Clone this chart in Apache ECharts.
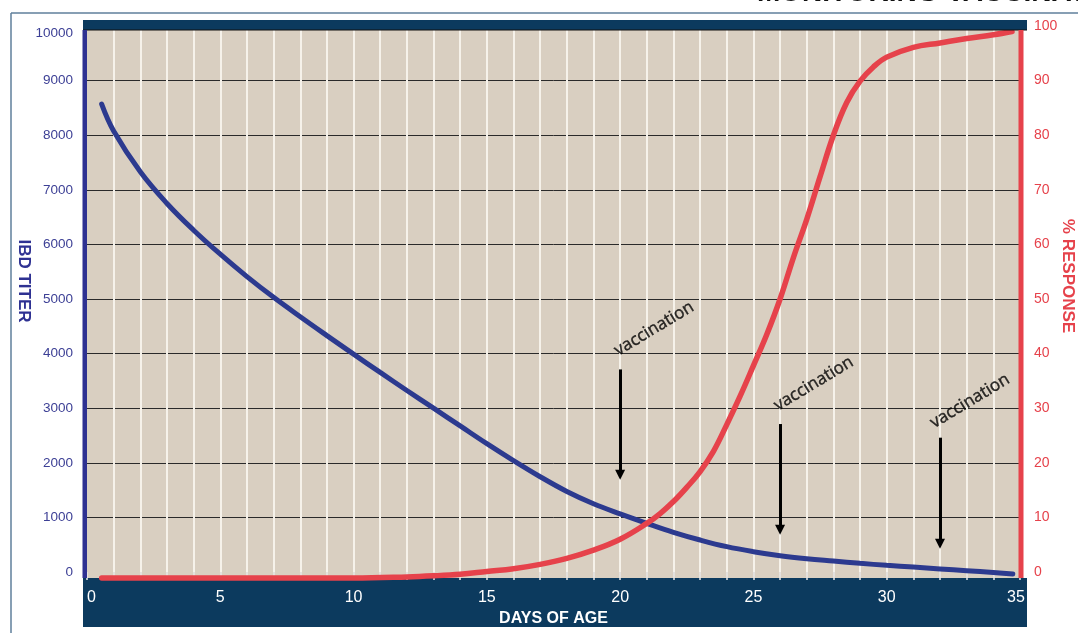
<!DOCTYPE html>
<html><head><meta charset="utf-8">
<script src="https://cdn.jsdelivr.net/npm/echarts@6/dist/echarts.min.js"></script>
<style>html,body{margin:0;padding:0;background:#fff;overflow:hidden}#c{width:1078px;height:633px}</style>
</head><body><div id="c"></div>
<script>
const titleText = 'MONITORING VACCINATION';
const xName = 'DAYS OF AGE';
const leftName = 'IBD TITER';
const rightName = '% RESPONSE';
const vaccinationText = 'vaccination';

// IBD titer curve (left axis)
const titerDays   = [0.55, 1, 2, 3, 4, 5, 6, 7, 8, 9, 10, 11, 12, 13, 14, 15, 16, 17, 18, 19, 20, 21, 22, 23, 24, 25, 26, 27, 28, 29, 30, 31, 32, 33, 34, 34.73];
const titerValues = [8569, 8077, 7330, 6750, 6260, 5820, 5410, 5030, 4675, 4330, 3990, 3655, 3325, 3000, 2675, 2350, 2040, 1745, 1475, 1250, 1065, 892, 727, 586, 464, 372, 299, 244, 201, 159, 122, 90, 57, 24, -10, -38];

// % response curve (right axis)
const responseDays   = [0.55, 5, 10, 12, 13, 14, 15, 16, 17, 18, 19, 20, 21, 21.5, 22, 22.5, 23, 23.5, 24, 24.5, 25, 25.5, 26, 26.5, 27, 27.5, 28, 28.5, 29, 29.5, 30, 31, 32, 33, 34, 34.7];
const responseValues = [-1.1, -1.1, -1.1, -0.9, -0.7, -0.4, 0.1, 0.6, 1.4, 2.5, 4.0, 6.0, 8.9, 10.7, 12.9, 15.5, 18.4, 22.1, 27.0, 32.2, 37.8, 43.5, 50.0, 57.6, 64.6, 72.4, 80.0, 86.0, 89.9, 92.5, 94.3, 96.1, 96.9, 97.7, 98.4, 99.0];

// vaccination annotations (left-axis units)
const vaccinationDays = [20, 26, 32];
const arrowFrom = [3710, 2710, 2460];
const arrowTo   = [1780, 773, 516];
const labelDays  = [20.0, 25.99, 31.85];
const labelTiter = [3900, 2893, 2575];

const FONT = "'Liberation Sans',Arial,sans-serif";
const NAVY = '#0c3a5e', TAN = '#d9cfc1', RED = '#e6424b', BLUE = '#2c3a8f';

const chart = echarts.init(document.getElementById('c'), null, {renderer: 'canvas'});
chart.setOption({
  animation: false,
  backgroundColor: '#ffffff',
  title: {
    text: titleText, left: 757, top: -21, padding: 0,
    textStyle: {fontFamily: FONT, fontSize: 28, fontWeight: 900, color: '#111'}
  },
  grid: {left: 87, right: 58, top: 26, bottom: 61, containLabel: false},
  xAxis: {
    type: 'value', min: 0, max: 35, interval: 1, offset: 6,
    axisLine: {show: false},
    axisTick: {show: true, length: 8, lineStyle: {color: '#e8e8e8', width: 1.5}},
    axisLabel: {
      color: '#ffffff', fontFamily: FONT, fontSize: 16, margin: 12,
      alignMinLabel: 'left',
      formatter: v => (v === 35 ? '{m|35}' : (v % 5 === 0 ? String(v) : '')),
      rich: {m: {color: '#ffffff', fontFamily: FONT, fontSize: 16, padding: [0, 8, 0, 0]}}
    },
    splitLine: {show: true, showMinLine: false, showMaxLine: false, lineStyle: {color: '#f6f2ea', width: 2}},
    name: xName, nameLocation: 'middle', nameGap: 25,
    nameTextStyle: {color: '#ffffff', fontFamily: FONT, fontSize: 16, fontWeight: 'bold'}
  },
  yAxis: [
    {
      type: 'value', min: 0, max: 10000, interval: 1000, position: 'left',
      axisLine: {show: false}, axisTick: {show: false},
      axisLabel: {color: '#3c3f95', fontFamily: FONT, fontSize: 13.5, margin: 14, verticalAlignMaxLabel: 'top',
        formatter: v => String(v)},
      splitLine: {show: true, showMinLine: false, showMaxLine: false, lineStyle: {color: '#2a2a2a', width: 1}}
    },
    {
      type: 'value', min: 0, max: 100, interval: 10, position: 'right',
      axisLine: {show: false}, axisTick: {show: false},
      axisLabel: {color: RED, fontFamily: FONT, fontSize: 14, margin: 14, formatter: v => String(v)},
      splitLine: {show: false}
    }
  ],
  graphic: [
    {type: 'rect', z: -100, silent: true, shape: {x: 87, y: 30, width: 933, height: 548}, style: {fill: TAN}},
    {type: 'rect', z: -50, silent: true, shape: {x: 83, y: 578, width: 944, height: 49}, style: {fill: NAVY}},
    {type: 'rect', z: 50, silent: true, shape: {x: 83, y: 20, width: 944, height: 10}, style: {fill: NAVY}},
    {type: 'line', z: 50, silent: true, shape: {x1: 83, y1: 30, x2: 1027, y2: 30}, style: {stroke: '#111', lineWidth: 1}},
    {type: 'rect', z: 50, silent: true, shape: {x: 82.5, y: 30, width: 4.5, height: 548}, style: {fill: '#2e3192'}},
    {type: 'rect', z: 50, silent: true, shape: {x: 1018.5, y: 30, width: 5, height: 548}, style: {fill: RED}},
    {type: 'line', z: 50, silent: true, shape: {x1: 11, y1: 13, x2: 1078, y2: 13}, style: {stroke: '#5f7f9b', lineWidth: 1.5}},
    {type: 'line', z: 50, silent: true, shape: {x1: 11, y1: 13, x2: 11, y2: 633}, style: {stroke: '#5f7f9b', lineWidth: 1.5}},
    {type: 'text', z: 50, silent: true, x: 24, y: 281, rotation: -Math.PI / 2,
      style: {text: leftName, fill: '#2e3192', font: "bold 17px " + FONT, textAlign: 'center', textVerticalAlign: 'middle'}},
    {type: 'text', z: 50, silent: true, x: 1068, y: 276, rotation: -Math.PI / 2,
      style: {text: rightName, fill: RED, font: "bold 17px " + FONT, textAlign: 'center', textVerticalAlign: 'middle'}}
  ],
  series: [
    {
      type: 'line', name: 'IBD titer', yAxisIndex: 0, clip: false, silent: true,
      data: titerDays.map((d, i) => [d, titerValues[i]]),
      smooth: 0.4, showSymbol: false, symbol: 'none',
      lineStyle: {color: BLUE, width: 5, cap: 'round'}, z: 3
    },
    {
      type: 'line', name: '% response', yAxisIndex: 1, clip: false, silent: true,
      data: responseDays.map((d, i) => [d, responseValues[i]]),
      smooth: 0.4, showSymbol: false, symbol: 'none',
      lineStyle: {color: RED, width: 5.5, cap: 'round'}, z: 4
    },
    {
      type: 'scatter', name: 'vaccination', yAxisIndex: 0, clip: false, silent: true,
      symbolSize: 0, z: 5, itemStyle: {color: 'transparent'},
      data: labelDays.map((d, i) => [d, labelTiter[i]]),
      label: {
        show: true, formatter: vaccinationText, position: [0, 0], rotate: 31,
        align: 'left', verticalAlign: 'bottom', color: '#000',
        textBorderColor: '#000', textBorderWidth: 0.4, textShadowBlur: 0,
        fontFamily: "'Open Sans',sans-serif", fontSize: 17
      },
      markLine: {
        silent: true, symbol: ['none', 'triangle'], symbolSize: 10,
        label: {show: false},
        lineStyle: {color: '#000', width: 3, type: 'solid'},
        emphasis: {disabled: true},
        data: vaccinationDays.map((d, i) => [{coord: [d, arrowFrom[i]]}, {coord: [d, arrowTo[i]]}])
      }
    }
  ]
});
</script>
</body></html>
